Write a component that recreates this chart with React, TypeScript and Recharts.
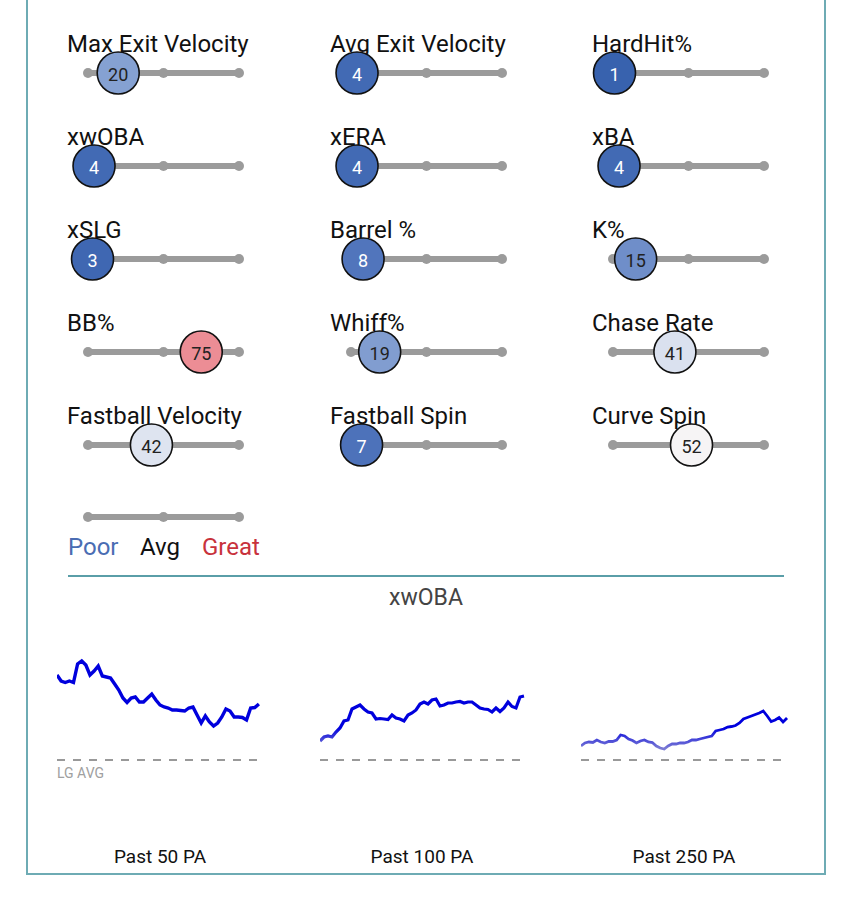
import React from 'react';
import {
  ComposedChart,
  Scatter,
  LineChart,
  Line,
  XAxis,
  YAxis,
  ReferenceLine,
} from 'recharts';

// ── Data ─────────────────────────────────────────────────
const metricNames = [
  'Max Exit Velocity', 'Avg Exit Velocity', 'HardHit%',
  'xwOBA', 'xERA', 'xBA',
  'xSLG', 'Barrel %', 'K%',
  'BB%', 'Whiff%', 'Chase Rate',
  'Fastball Velocity', 'Fastball Spin', 'Curve Spin',
];
const percentiles = [20, 4, 1, 4, 4, 4, 3, 8, 15, 75, 19, 41, 42, 7, 52];
const scaleTicks = [0, 50, 100];
const legendLabels = ['Poor', 'Avg', 'Great'];

const trendTitle = 'xwOBA';
const trendLabels = ['Past 50 PA', 'Past 100 PA', 'Past 250 PA'];
const lgAvg = 0.32;

const past50 = [
  0.405, 0.399, 0.3975, 0.399, 0.3975, 0.416, 0.419, 0.415, 0.405, 0.409,
  0.414, 0.404, 0.403, 0.402, 0.396, 0.39, 0.382, 0.3775, 0.382, 0.383,
  0.378, 0.378, 0.382, 0.386, 0.38, 0.375, 0.373, 0.372, 0.37, 0.37,
  0.3695, 0.369, 0.372, 0.373, 0.365, 0.357, 0.364, 0.358, 0.354, 0.357,
  0.363, 0.371, 0.369, 0.363, 0.363, 0.3625, 0.36, 0.372, 0.3725, 0.376,
];
const past100 = [
  0.339, 0.343, 0.344, 0.343, 0.348, 0.352, 0.359, 0.36, 0.371, 0.373,
  0.375, 0.371, 0.368, 0.367, 0.361, 0.3615, 0.361, 0.3605, 0.365, 0.362,
  0.361, 0.359, 0.365, 0.367, 0.37, 0.376, 0.378, 0.376, 0.38, 0.381,
  0.374, 0.375, 0.377, 0.377, 0.378, 0.3785, 0.377, 0.378, 0.378, 0.375,
  0.372, 0.371, 0.3705, 0.368, 0.372, 0.3685, 0.372, 0.378, 0.3735, 0.372,
  0.383, 0.384,
];
const past250 = [
  0.334, 0.337, 0.338, 0.3375, 0.34, 0.338, 0.337, 0.3385, 0.3385, 0.34,
  0.345, 0.344, 0.341, 0.3395, 0.337, 0.339, 0.34, 0.338, 0.3375, 0.334,
  0.332, 0.331, 0.334, 0.336, 0.336, 0.337, 0.337, 0.338, 0.34, 0.34,
  0.341, 0.342, 0.343, 0.344, 0.349, 0.35, 0.351, 0.353, 0.3535, 0.3545,
  0.357, 0.361, 0.3625, 0.364, 0.3655, 0.367, 0.369, 0.364, 0.3585, 0.36,
  0.3625, 0.358, 0.362,
];

// ── Styling helpers ──────────────────────────────────────
const colLeft = [67, 330, 592];
const trackTop = 73;
const rowGap = 93;
const legendTrackY = 517;
const trackColor = '#9b9b9b';
const font = 'Roboto, "Noto Sans", sans-serif';

const paletteStops: [number, number[]][] = [
  [0, [52, 95, 172]],
  [10, [88, 122, 192]],
  [20, [133, 161, 210]],
  [42, [222, 228, 240]],
  [52, [246, 244, 245]],
  [62, [246, 214, 218]],
  [75, [236, 141, 149]],
  [100, [205, 40, 60]],
];

function percentileColor(p: number) {
  for (let i = 1; i < paletteStops.length; i++) {
    const [p1, c1] = paletteStops[i];
    const [p0, c0] = paletteStops[i - 1];
    if (p <= p1) {
      const t = (p - p0) / (p1 - p0);
      const c = c0.map((v, k) => Math.round(v + (c1[k] - v) * t));
      return `rgb(${c[0]},${c[1]},${c[2]})`;
    }
  }
  return 'rgb(205,40,60)';
}

// ── Percentile slider ────────────────────────────────────
function Bubble(props: any) {
  const { cx, cy, payload } = props;
  const p = payload.x as number;
  return (
    <g>
      <circle cx={cx} cy={cy} r={21} fill={percentileColor(p)} stroke="#111" strokeWidth={1.6} />
      <text
        x={cx}
        y={cy + 8}
        textAnchor="middle"
        fontSize={18}
        fontFamily={font}
        fill={p < 12 ? '#fff' : '#222'}
      >
        {p}
      </text>
    </g>
  );
}

const trackData = scaleTicks.map((t) => ({ x: t, y: 0.5 }));

function Slider({ value, left, trackY }: { value?: number; left: number; trackY: number }) {
  return (
    <div style={{ position: 'absolute', left, top: trackY - 25, width: 200, height: 50 }}>
      <ComposedChart width={200} height={50} data={trackData} margin={{ top: 0, right: 28, bottom: 0, left: 21 }}>
        <XAxis type="number" dataKey="x" domain={[0, 100]} hide />
        <YAxis type="number" dataKey="y" domain={[0, 1]} hide />
        <Line
          type="linear"
          dataKey="y"
          stroke={trackColor}
          strokeWidth={6}
          dot={{ r: 5, fill: trackColor, stroke: 'none' }}
          isAnimationActive={false}
        />
        {value != null && (
          <Scatter data={[{ x: value, y: 0.5 }]} dataKey="y" isAnimationActive={false} shape={Bubble} />
        )}
      </ComposedChart>
    </div>
  );
}

// ── Rolling trend ────────────────────────────────────────
function Trend({
  values, left, width, xMax, id, strokeWidth,
}: { values: number[]; left: number; width: number; xMax: number; id: string; strokeWidth: number }) {
  const data = values.map((v, i) => ({ i, v }));
  return (
    <div style={{ position: 'absolute', left, top: 620 }}>
      <LineChart width={width} height={200} data={data} margin={{ top: 0, right: 0, bottom: 0, left: 0 }}>
        <defs>
          <linearGradient id={id} gradientUnits="userSpaceOnUse" x1="0" y1="108" x2="0" y2="128">
            <stop offset="0" stopColor="#0000dd" />
            <stop offset="1" stopColor="#7a7ad4" />
          </linearGradient>
        </defs>
        <XAxis type="number" dataKey="i" domain={[0, xMax]} hide />
        <YAxis type="number" domain={[0.26, 0.46]} hide />
        <ReferenceLine y={lgAvg} stroke="#999" strokeWidth={2} strokeDasharray="8 8" />
        <Line
          type="linear"
          dataKey="v"
          stroke={`url(#${id})`}
          strokeWidth={strokeWidth}
          dot={false}
          isAnimationActive={false}
        />
      </LineChart>
    </div>
  );
}

// ── Page ─────────────────────────────────────────────────
export default function App() {
  return (
    <div
      style={{
        position: 'absolute', left: 0, top: 0, width: 850, height: 908,
        background: '#fff', overflow: 'hidden', fontFamily: font,
      }}
    >
      <div
        style={{
          position: 'absolute', left: 26, top: -10, width: 800, height: 885,
          border: '2px solid #6eabb4', boxSizing: 'border-box',
        }}
      />
      <svg width={850} height={908} style={{ position: 'absolute', left: 0, top: 0 }}>
        {metricNames.map((name, i) => (
          <text
            key={name}
            x={colLeft[i % 3]}
            y={trackTop + rowGap * Math.floor(i / 3) - 21}
            fontSize={24}
            fontFamily={font}
            fill="#111"
          >
            {name}
          </text>
        ))}
        {legendLabels.map((l, i) => (
          <text
            key={l}
            x={[68, 140, 202][i]}
            y={555}
            fontSize={24}
            fontFamily={font}
            fill={['#4a6db3', '#111', '#c8323c'][i]}
          >
            {l}
          </text>
        ))}
        <line x1={68} x2={784} y1={576} y2={576} stroke="#5a9ea8" strokeWidth={2} />
        <text x={426} y={605} textAnchor="middle" fontSize={23} fontFamily={font} fill="#444">
          {trendTitle}
        </text>
        <text x={57} y={778} fontSize={14} fontFamily={font} fill="#a0a0a0">
          LG AVG
        </text>
        {trendLabels.map((l, i) => (
          <text
            key={l}
            x={[160, 422, 684][i]}
            y={863}
            textAnchor="middle"
            fontSize={19}
            fontFamily={font}
            fill="#111"
          >
            {l}
          </text>
        ))}
      </svg>

      {percentiles.map((p, i) => (
        <Slider
          key={metricNames[i]}
          value={p}
          left={colLeft[i % 3]}
          trackY={trackTop + rowGap * Math.floor(i / 3)}
        />
      ))}
      <Slider left={colLeft[0]} trackY={legendTrackY} />

      <Trend values={past50} left={57} width={206} xMax={50} id="g50" strokeWidth={3.4} />
      <Trend values={past100} left={320} width={206} xMax={51.5} id="g100" strokeWidth={3.2} />
      <Trend values={past250} left={581} width={208} xMax={52.5} id="g250" strokeWidth={2.8} />
    </div>
  );
}
